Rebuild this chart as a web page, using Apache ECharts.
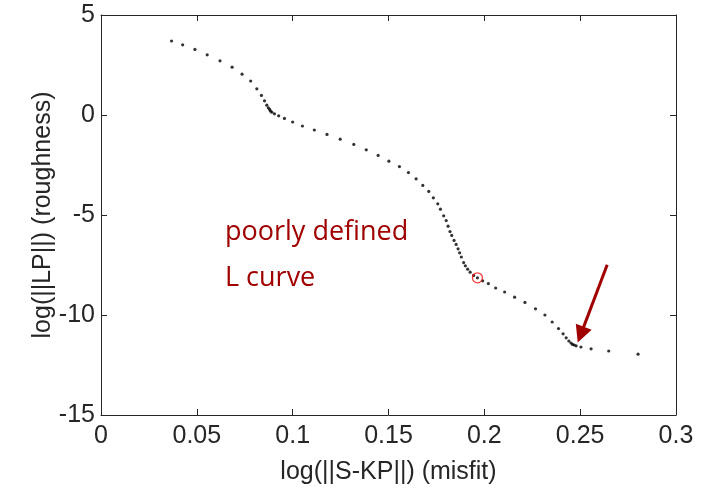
<!DOCTYPE html>
<html>
<head>
<meta charset="utf-8">
<script src="https://cdn.jsdelivr.net/npm/echarts@6/dist/echarts.min.js"></script>
<style>html,body{margin:0;padding:0;background:#fff;}#c{width:705px;height:490px;}</style>
</head>
<body>
<div id="c"></div>
<script>
// L-curve points: misfit (x) and roughness (y)
const misfit = [0.0368,0.0426,0.0490,0.0554,0.0621,0.0684,0.0736,0.0781,0.0813,0.0837,
  0.0853,0.0865,0.0873,0.0880,0.0884,0.0891,0.0905,0.0927,0.0957,0.1000,
  0.1051,0.1113,0.1179,0.1248,0.1319,0.1384,0.1446,0.1502,0.1557,0.1604,
  0.1644,0.1679,0.1710,0.1734,0.1757,0.1771,0.1788,0.1801,0.1811,0.1821,
  0.1830,0.1842,0.1853,0.1863,0.1871,0.1880,0.1892,0.1901,0.1913,0.1926,
  0.1944,0.1964,0.1991,0.2021,0.2059,0.2106,0.2158,0.2212,0.2267,0.2316,
  0.2354,0.2387,0.2411,0.2427,0.2441,0.2452,0.2460,0.2469,0.2479,0.2504,
  0.2557,0.2649,0.2802];
const roughness = [3.70,3.51,3.28,3.01,2.71,2.39,2.04,1.70,1.31,0.98,
  0.71,0.49,0.36,0.28,0.20,0.14,0.06,-0.04,-0.17,-0.35,
  -0.55,-0.75,-0.97,-1.21,-1.47,-1.74,-2.02,-2.31,-2.58,-2.88,
  -3.19,-3.52,-3.82,-4.14,-4.44,-4.71,-5.04,-5.28,-5.56,-5.83,
  -6.02,-6.27,-6.47,-6.69,-6.89,-7.10,-7.38,-7.54,-7.71,-7.86,
  -8.02,-8.14,-8.29,-8.43,-8.65,-8.85,-9.11,-9.37,-9.69,-10.00,
  -10.35,-10.68,-10.94,-11.14,-11.30,-11.40,-11.47,-11.50,-11.54,-11.60,
  -11.69,-11.80,-11.96];
// selected (circled) point
const selectedMisfit = [0.1964];
const selectedRoughness = [-8.14];
// annotation arrow: start and end (arrowhead centre) in data units
const arrowMisfit = [0.2641, 0.2503];
const arrowRoughness = [-7.49, -10.98];
// axis ticks
const xTicks = [0, 0.05, 0.1, 0.15, 0.2, 0.25, 0.3];
const yTicks = [-15, -10, -5, 0, 5];
const annotationLines = ['poorly defined', 'L curve'];

const axisColor = '#262626';
const font = "'Liberation Sans Narrow', 'Liberation Sans', Arial, sans-serif";
const gridBox = {left: 101, top: 15, width: 575, height: 405};

const xMin = xTicks[0], xMax = xTicks[xTicks.length-1], xInt = xTicks[1]-xTicks[0];
const yMin = yTicks[0], yMax = yTicks[yTicks.length-1], yInt = yTicks[1]-yTicks[0];

function xAxisDef(pos, showLabel) {
  return {
    type: 'value', position: pos, min: xMin, max: xMax, interval: xInt,
    axisLine: {show: true, onZero: false, lineStyle: {color: axisColor, width: 1}},
    axisTick: {show: true, inside: true, length: 6, lineStyle: {color: axisColor}},
    splitLine: {show: false},
    axisLabel: {show: showLabel, color: axisColor, fontFamily: font, fontSize: 25, margin: 9,
      formatter: v => String(+v.toFixed(2))},
    name: showLabel ? 'log(||S-KP||) (misfit)' : '', nameLocation: 'middle', nameGap: 45,
    nameMoveOverlap: false,
    nameTextStyle: {color: axisColor, fontFamily: font, fontSize: 25}
  };
}
function yAxisDef(pos, showLabel) {
  return {
    type: 'value', position: pos, min: yMin, max: yMax, interval: yInt,
    axisLine: {show: true, onZero: false, lineStyle: {color: axisColor, width: 1}},
    axisTick: {show: true, inside: true, length: 6, lineStyle: {color: axisColor}},
    splitLine: {show: false},
    axisLabel: {show: showLabel, color: axisColor, fontFamily: font, fontSize: 25, margin: 6},
    name: showLabel ? 'log(||LP||) (roughness)' : '', nameLocation: 'middle', nameGap: 45,
    nameMoveOverlap: false,
    nameTextStyle: {color: axisColor, fontFamily: font, fontSize: 25}
  };
}

const curve = misfit.map((x, i) => [x, roughness[i]]);
const selected = selectedMisfit.map((x, i) => [x, selectedRoughness[i]]);

const chart = echarts.init(document.getElementById('c'), null, {renderer: 'canvas'});
chart.setOption({
  backgroundColor: '#ffffff',
  animation: false,
  grid: gridBox,
  xAxis: [xAxisDef('bottom', true), xAxisDef('top', false)],
  yAxis: [yAxisDef('left', true), yAxisDef('right', false)],
  series: [
    {
      type: 'scatter', xAxisIndex: 0, yAxisIndex: 0, data: curve,
      symbol: 'circle', symbolSize: 3.2, itemStyle: {color: '#000000'}, silent: true,
      markLine: {
        silent: true, symbol: ['none', 'triangle'], symbolSize: 17,
        label: {show: false},
        lineStyle: {color: '#a00000', width: 3, type: 'solid'},
        itemStyle: {color: '#a00000'},
        emphasis: {disabled: true},
        data: [[{coord: [arrowMisfit[0], arrowRoughness[0]]}, {coord: [arrowMisfit[1], arrowRoughness[1]]}]]
      }
    },
    {
      type: 'scatter', xAxisIndex: 0, yAxisIndex: 0, data: selected, z: 3,
      symbol: 'circle', symbolSize: 10,
      itemStyle: {color: 'rgba(0,0,0,0)', borderColor: '#ff0000', borderWidth: 1.2}, silent: true
    }
  ],
  graphic: [
    {type: 'text', left: 225, top: 219, style: {text: annotationLines[0], fill: '#a00000',
      font: "27px 'Open Sans', sans-serif"}},
    {type: 'text', left: 225, top: 265, style: {text: annotationLines[1], fill: '#a00000',
      font: "27px 'Open Sans', sans-serif"}}
  ]
});
</script>
</body>
</html>
